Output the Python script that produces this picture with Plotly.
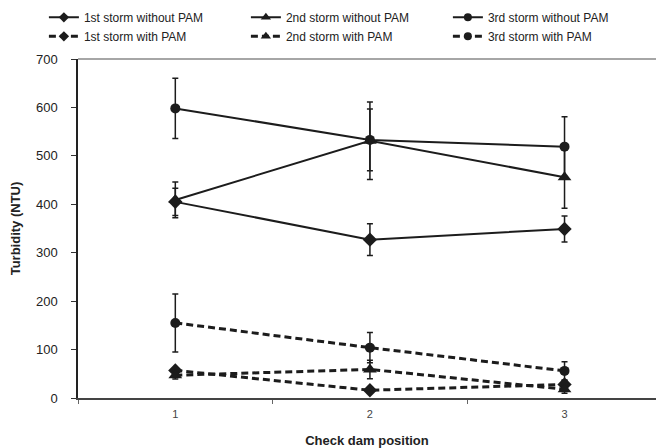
import plotly.graph_objects as go

positions = [1, 2, 3]

s1_without = [405, 327, 349]
s1_without_err = [28, 33, 27]
s2_without = [409, 531, 456]
s2_without_err = [37, 80, 64]
s3_without = [598, 533, 519]
s3_without_err = [62, 64, 62]

s1_with = [57, 16, 28]
s1_with_err = [5, 5, 8]
s2_with = [47, 59, 18]
s2_with_err = [8, 19, 8]
s3_with = [155, 104, 56]
s3_with_err = [60, 31, 19]

series = [
    ("1st storm without PAM", s1_without, s1_without_err, "diamond", "solid"),
    ("2nd storm without PAM", s2_without, s2_without_err, "triangle-up", "solid"),
    ("3rd storm without PAM", s3_without, s3_without_err, "circle", "solid"),
    ("1st storm with PAM", s1_with, s1_with_err, "diamond", "dash"),
    ("2nd storm with PAM", s2_with, s2_with_err, "triangle-up", "dash"),
    ("3rd storm with PAM", s3_with, s3_with_err, "circle", "dash"),
]
marker_sizes = {"diamond": 11, "triangle-up": 12, "circle": 10}
legend_sizes = {"diamond": 8, "triangle-up": 9, "circle": 8}

ink = "#1c1c1c"
fig = go.Figure()
for name, vals, errs, sym, dash in series:
    line = dict(color=ink, width=2 if dash == "solid" else 3,
                dash="solid" if dash == "solid" else "7px,4px")
    fig.add_trace(go.Scatter(
        x=positions, y=vals, name=name, mode="lines+markers",
        legendgroup=name, showlegend=False, line=line,
        marker=dict(symbol=sym, size=marker_sizes[sym], color=ink),
        error_y=dict(type="data", array=errs, visible=True, color=ink,
                     thickness=1.5, width=3),
    ))
    # legend-only entry with smaller symbol
    fig.add_trace(go.Scatter(
        x=[None], y=[None], name=name, mode="lines+markers",
        legendgroup=name, showlegend=True, line=line,
        marker=dict(symbol=sym, size=legend_sizes[sym], color=ink),
    ))

fig.update_layout(
    width=656, height=448,
    margin=dict(l=78, r=0, t=59, b=50, autoexpand=False),
    paper_bgcolor="white", plot_bgcolor="white",
    font=dict(family="Liberation Sans, Arial, sans-serif", color="#222"),
    showlegend=True,
    legend=dict(orientation="h", x=-0.059, y=1.024, yanchor="bottom",
                xanchor="left", entrywidth=157, entrywidthmode="pixels",
                itemwidth=30, font=dict(size=12, color="#222"),
                tracegroupgap=0, bgcolor="rgba(0,0,0,0)"),
    xaxis=dict(range=[0.5, 3.47], tickvals=positions, ticktext=["1", "2", "3"],
               ticks="", showgrid=False, zeroline=False, automargin=False,
               showline=True, linecolor="#444", linewidth=1.5,
               tickfont=dict(size=11, color="#444"), ticklabelstandoff=5,
               minor=dict(ticks="outside", tick0=0.5, dtick=1, ticklen=4,
                          tickcolor="#666", showgrid=False),
               title=dict(text="<b>Check dam position</b>",
                          font=dict(size=13, color="#222"), standoff=19)),
    yaxis=dict(range=[0, 700], dtick=100, ticks="outside", ticklen=5,
               tickcolor="#333", showgrid=False, zeroline=False, automargin=False,
               showline=True, linecolor="#222", linewidth=1.5,
               tickfont=dict(size=13, color="#222"), ticklabelstandoff=11,
               title=dict(text="<b>Turbidity (NTU)</b>",
                          font=dict(size=13, color="#222"), standoff=12)),
    shapes=[dict(type="line", xref="paper", yref="y domain", x0=0, x1=1,
                 y0=1, y1=1, line=dict(color="#888", width=1.5))],
)

fig.write_html("out.html", config={"displayModeBar": False},
               post_script="document.body.style.margin='0';")
